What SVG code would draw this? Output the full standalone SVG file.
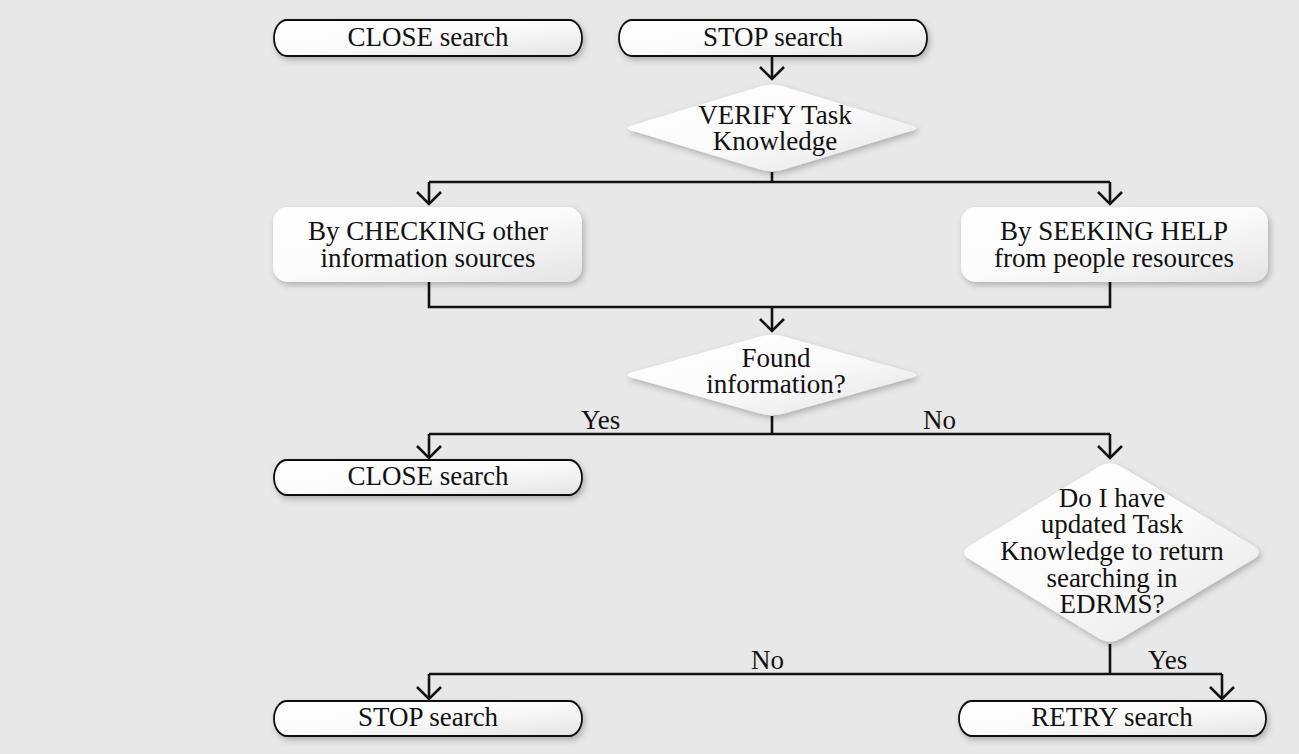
<svg xmlns="http://www.w3.org/2000/svg" width="1299" height="754" viewBox="0 0 1299 754">
<style>
text{font-family:'Liberation Serif','Times New Roman',Tinos,'DejaVu Serif',serif;font-size:27px;fill:#111}
.t{text-anchor:middle}
.pill{fill:url(#g);stroke:#111;stroke-width:1.8;filter:url(#sh)}
.box{fill:url(#g);filter:url(#sh)}
.c{fill:none;stroke:#111;stroke-width:2.6}
.a{marker-end:url(#arr)}
</style>
<defs>
<linearGradient id="g" x1="0" y1="0" x2="1" y2="1">
<stop offset="0" stop-color="#ffffff"/>
<stop offset="0.5" stop-color="#fbfbfb"/>
<stop offset="1" stop-color="#e4e4e4"/>
</linearGradient>
<filter id="sh" x="-10%" y="-20%" width="125%" height="150%">
<feDropShadow dx="2" dy="3" stdDeviation="3" flood-color="#000" flood-opacity="0.25"/>
</filter>
<marker id="arr" markerUnits="userSpaceOnUse" viewBox="0 0 20 30" refX="15" refY="15" markerWidth="20" markerHeight="30" orient="auto" overflow="visible">
<path d="M3,3 L15,15 L3,27" fill="none" stroke="#111" stroke-width="2.6"/>
</marker>
</defs>
<rect width="1299" height="754" fill="#e8e8e8"/>

<g id="connectors">
<path class="c a" d="M772,56 V79"/>
<path class="c" d="M772,172 V182 M429,182 H1110"/>
<path class="c a" d="M429,182 V204"/>
<path class="c a" d="M1110,182 V204"/>
<path class="c" d="M429,282 V307 H1110 V282"/>
<path class="c a" d="M772,307 V331"/>
<path class="c" d="M772,416 V434 M429,434 H1110"/>
<path class="c a" d="M429,434 V458"/>
<path class="c a" d="M1110,434 V458"/>
<path class="c" d="M1110,644 V674 M429,674 H1222"/>
<path class="c a" d="M429,674 V699"/>
<path class="c a" d="M1222,674 V699"/>
<text x="581" y="429">Yes</text>
<text x="923" y="429">No</text>
<text x="751" y="669">No</text>
<text x="1148" y="669">Yes</text>
</g>

<g id="close1">
<rect class="pill" x="274" y="20" width="308" height="36" rx="13" ry="18"/>
<text class="t" x="428" y="46">CLOSE search</text>
</g>
<g id="stop1">
<rect class="pill" x="619" y="20" width="308" height="36" rx="13" ry="18"/>
<text class="t" x="773" y="46">STOP search</text>
</g>
<g id="verify">
<path class="box" d="M635,124.5 L760,86.5 Q772,83 784,86.5 L909,124.5 Q924,128 909,131.5 L784,169.5 Q772,173 760,169.5 L635,131.5 Q620,128 635,124.5 Z"/>
<text class="t" x="775" y="124">VERIFY Task</text>
<text class="t" x="775" y="150">Knowledge</text>
</g>
<g id="checking">
<rect class="box" x="273" y="207" width="309" height="75" rx="15"/>
<text class="t" x="428" y="240">By CHECKING other</text>
<text class="t" x="428" y="267">information sources</text>
</g>
<g id="seeking">
<rect class="box" x="961" y="207" width="307" height="75" rx="15"/>
<text class="t" x="1114" y="240">By SEEKING HELP</text>
<text class="t" x="1114" y="267">from people resources</text>
</g>
<g id="found">
<path class="box" d="M635,371.5 L760,336.5 Q772,333 784,336.5 L909,371.5 Q924,375 909,378.5 L784,413.5 Q772,417 760,413.5 L635,378.5 Q620,375 635,371.5 Z"/>
<text class="t" x="776" y="367">Found</text>
<text class="t" x="776" y="393">information?</text>
</g>
<g id="close2">
<rect class="pill" x="274" y="460" width="308" height="35" rx="13" ry="17.5"/>
<text class="t" x="428" y="485">CLOSE search</text>
</g>
<g id="update">
<path class="box" d="M970,545.5 L1099,466.5 Q1110,460 1121,466.5 L1253,545.5 Q1265,552.5 1253,559.5 L1121,638.5 Q1110,645 1099,638.5 L970,559.5 Q958,552.5 970,545.5 Z"/>
<text class="t" x="1112" y="507">Do I have</text>
<text class="t" x="1112" y="533">updated Task</text>
<text class="t" x="1112" y="560">Knowledge to return</text>
<text class="t" x="1112" y="587">searching in</text>
<text class="t" x="1112" y="613">EDRMS?</text>
</g>
<g id="stop2">
<rect class="pill" x="274" y="701" width="308" height="35" rx="13" ry="17.5"/>
<text class="t" x="428" y="726">STOP search</text>
</g>
<g id="retry">
<rect class="pill" x="959" y="701" width="307" height="35" rx="13" ry="17.5"/>
<text class="t" x="1112" y="726">RETRY search</text>
</g>
</svg>
